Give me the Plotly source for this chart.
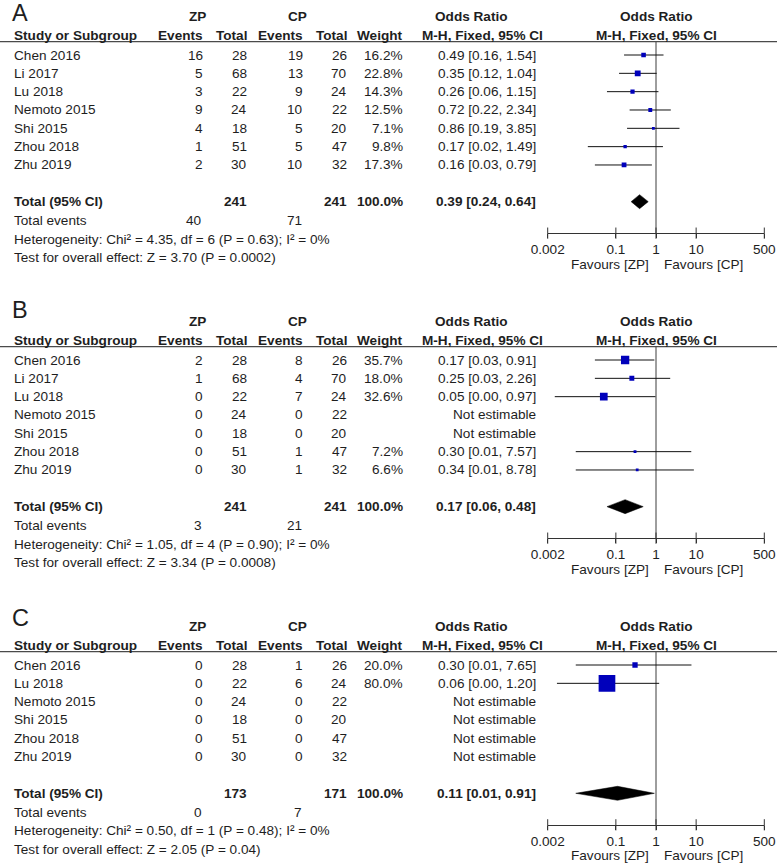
import math
import plotly.graph_objects as go

W, H = 778, 866
FONT = "Liberation Sans, Arial, Helvetica, sans-serif"
TXT = "#1e1e1e"
AX = "#333333"
BLUE = "#0000BB"

# ---------------- data ----------------
studies_A = ["Chen 2016", "Li 2017", "Lu 2018", "Nemoto 2015", "Shi 2015", "Zhou 2018", "Zhu 2019"]
zp_events_A = [16, 5, 3, 9, 4, 1, 2]
zp_total_A = [28, 68, 22, 24, 18, 51, 30]
cp_events_A = [19, 13, 9, 10, 5, 5, 10]
cp_total_A = [26, 70, 24, 22, 20, 47, 32]
weight_A = [16.2, 22.8, 14.3, 12.5, 7.1, 9.8, 17.3]
or_A = [0.49, 0.35, 0.26, 0.72, 0.86, 0.17, 0.16]
lo_A = [0.16, 0.12, 0.06, 0.22, 0.19, 0.02, 0.03]
hi_A = [1.54, 1.04, 1.15, 2.34, 3.85, 1.49, 0.79]
pooled_A = [0.39, 0.24, 0.64]
totals_A = [241, 241]
events_A = [40, 71]
het_A = "Heterogeneity: Chi² = 4.35, df = 6 (P = 0.63); I² = 0%"
test_A = "Test for overall effect: Z = 3.70 (P = 0.0002)"

studies_B = ["Chen 2016", "Li 2017", "Lu 2018", "Nemoto 2015", "Shi 2015", "Zhou 2018", "Zhu 2019"]
zp_events_B = [2, 1, 0, 0, 0, 0, 0]
zp_total_B = [28, 68, 22, 24, 18, 51, 30]
cp_events_B = [8, 4, 7, 0, 0, 1, 1]
cp_total_B = [26, 70, 24, 22, 20, 47, 32]
weight_B = [35.7, 18.0, 32.6, None, None, 7.2, 6.6]
or_B = [0.17, 0.25, 0.05, None, None, 0.30, 0.34]
lo_B = [0.03, 0.03, 0.003, None, None, 0.01, 0.01]
hi_B = [0.91, 2.26, 0.97, None, None, 7.57, 8.78]
pooled_B = [0.17, 0.06, 0.48]
totals_B = [241, 241]
events_B = [3, 21]
het_B = "Heterogeneity: Chi² = 1.05, df = 4 (P = 0.90); I² = 0%"
test_B = "Test for overall effect: Z = 3.34 (P = 0.0008)"

studies_C = ["Chen 2016", "Lu 2018", "Nemoto 2015", "Shi 2015", "Zhou 2018", "Zhu 2019"]
zp_events_C = [0, 0, 0, 0, 0, 0]
zp_total_C = [28, 22, 24, 18, 51, 30]
cp_events_C = [1, 6, 0, 0, 0, 0]
cp_total_C = [26, 24, 22, 20, 47, 32]
weight_C = [20.0, 80.0, None, None, None, None]
or_C = [0.30, 0.06, None, None, None, None]
lo_C = [0.01, 0.0034, None, None, None, None]
hi_C = [7.65, 1.20, None, None, None, None]
pooled_C = [0.11, 0.01, 0.91]
totals_C = [173, 171]
events_C = [0, 7]
het_C = "Heterogeneity: Chi² = 0.50, df = 1 (P = 0.48); I² = 0%"
test_C = "Test for overall effect: Z = 2.05 (P = 0.04)"

panel_letters = ["A", "B", "C"]
tick_vals = [0.002, 0.1, 1, 10, 500]
tick_text = ["0.002", "0.1", "1", "10", "500"]
favours = ["Favours [ZP]", "Favours [CP]"]

panels = [
    dict(studies=studies_A, zpe=zp_events_A, zpt=zp_total_A, cpe=cp_events_A, cpt=cp_total_A,
         w=weight_A, orr=or_A, lo=lo_A, hi=hi_A, pooled=pooled_A, totals=totals_A,
         events=events_A, het=het_A, test=test_A),
    dict(studies=studies_B, zpe=zp_events_B, zpt=zp_total_B, cpe=cp_events_B, cpt=cp_total_B,
         w=weight_B, orr=or_B, lo=lo_B, hi=hi_B, pooled=pooled_B, totals=totals_B,
         events=events_B, het=het_B, test=test_B),
    dict(studies=studies_C, zpe=zp_events_C, zpt=zp_total_C, cpe=cp_events_C, cpt=cp_total_C,
         w=weight_C, orr=or_C, lo=lo_C, hi=hi_C, pooled=pooled_C, totals=totals_C,
         events=events_C, het=het_C, test=test_C),
]

# ---------------- layout constants (pixels) ----------------
PANEL_OFF = [0, 305, 610]
LETTER_Y = [12.5, 310, 618]
FIRST_ROW = 55
ROW_H = 18.33
FS = 13.6
X_STUDY = 12.7
X_EV_ZP, X_TOT_ZP, X_EV_CP, X_TOT_CP, X_W, X_OR = 203.5, 247.5, 303.5, 347.5, 404, 537
PLOT_L, PLOT_R = 547.7, 764.3

fig = go.Figure()
annotations = []
shapes = []


def txt(xpx, y, s, anchor="left", bold=False, size=FS):
    annotations.append(dict(
        xref="paper", yref="y", x=xpx / W, y=y, text=("<b>%s</b>" % s) if bold else s,
        showarrow=False, xanchor=anchor, yanchor="middle", borderpad=0,
        font=dict(family=FONT, size=size, color=TXT)))


for k, p in enumerate(panels):
    off = PANEL_OFF[k]
    xa = "x" if k == 0 else "x%d" % (k + 1)
    y0 = off + FIRST_ROW
    n = len(p["studies"])
    rows = [y0 + i * ROW_H for i in range(n)]
    y_total = rows[-1] + 2 * ROW_H
    y_events = y_total + 18.7
    y_het = y_total + 37.4
    y_test = y_total + 56
    y_axis = y_total + 31.5
    y_fav = y_axis + 31
    y_h1 = y0 - 39
    y_h2 = y0 - 20
    y_line = y0 - 13.3

    # panel letter
    txt(11, LETTER_Y[k], panel_letters[k], size=23.5)

    # headers
    txt(197, y_h1, "ZP", "center", True)
    txt(297, y_h1, "CP", "center", True)
    txt(471.5, y_h1, "Odds Ratio", "center", True)
    txt(656.5, y_h1, "Odds Ratio", "center", True)
    txt(X_STUDY, y_h2, "Study or Subgroup", "left", True)
    txt(X_EV_ZP + 0.5, y_h2, "Events", "right", True)
    txt(X_TOT_ZP, y_h2, "Total", "right", True)
    txt(X_EV_CP, y_h2, "Events", "right", True)
    txt(X_TOT_CP, y_h2, "Total", "right", True)
    txt(X_W, y_h2, "Weight", "right", True)
    txt(482.5, y_h2, "M-H, Fixed, 95% CI", "center", True)
    txt(656, y_h2, "M-H, Fixed, 95% CI", "center", True)
    shapes.append(dict(type="line", xref="paper", yref="y", x0=0, x1=777 / W,
                       y0=y_line, y1=y_line, line=dict(color="#4a4a4a", width=1.3)))

    # study rows
    for i, s in enumerate(p["studies"]):
        y = rows[i]
        txt(X_STUDY, y, s)
        txt(X_EV_ZP, y, str(p["zpe"][i]), "right")
        txt(X_TOT_ZP, y, str(p["zpt"][i]), "right")
        txt(X_EV_CP, y, str(p["cpe"][i]), "right")
        txt(X_TOT_CP, y, str(p["cpt"][i]), "right")
        if p["orr"][i] is None:
            txt(X_OR, y, "Not estimable", "right")
        else:
            txt(X_W, y, "%.1f%%" % p["w"][i], "right")
            txt(X_OR, y, "%.2f [%.2f, %.2f]" % (p["orr"][i], p["lo"][i], p["hi"][i]), "right")

    # totals
    txt(X_STUDY, y_total, "Total (95% CI)", "left", True)
    txt(X_TOT_ZP, y_total, str(p["totals"][0]), "right", True)
    txt(X_TOT_CP, y_total, str(p["totals"][1]), "right", True)
    txt(X_W, y_total, "100.0%", "right", True)
    txt(X_OR, y_total, "%.2f [%.2f, %.2f]" % tuple(p["pooled"]), "right", True)
    txt(X_STUDY, y_events, "Total events")
    txt(X_EV_ZP - 1, y_events, str(p["events"][0]), "right")
    txt(X_EV_CP - 1, y_events, str(p["events"][1]), "right")
    txt(X_STUDY, y_het, p["het"])
    txt(X_STUDY, y_test, p["test"])

    # favours labels
    annotations.append(dict(xref=xa, yref="y", x=0, y=y_fav, text=favours[0], showarrow=False,
                            xanchor="right", yanchor="middle", xshift=-5,
                            font=dict(family=FONT, size=FS, color=TXT)))
    annotations.append(dict(xref=xa, yref="y", x=0, y=y_fav, text=favours[1], showarrow=False,
                            xanchor="left", yanchor="middle", xshift=6,
                            font=dict(family=FONT, size=FS, color=TXT)))

    # null line
    fig.add_trace(go.Scatter(x=[1, 1], y=[y_line, y_axis], mode="lines", xaxis=xa, yaxis="y",
                             line=dict(color="#3c3c3c", width=1), hoverinfo="skip", showlegend=False))

    # CI lines
    cx, cy = [], []
    for i in range(n):
        if p["orr"][i] is not None:
            cx += [p["lo"][i], p["hi"][i], None]
            cy += [rows[i], rows[i], None]
    fig.add_trace(go.Scatter(x=cx, y=cy, mode="lines", xaxis=xa, yaxis="y",
                             line=dict(color="#111111", width=1), hoverinfo="skip", showlegend=False))

    # squares
    mx, my, ms = [], [], []
    for i in range(n):
        if p["orr"][i] is not None:
            mx.append(p["orr"][i])
            my.append(rows[i])
            ms.append(1.5 + 0.19 * p["w"][i])
    fig.add_trace(go.Scatter(x=mx, y=my, mode="markers", xaxis=xa, yaxis="y",
                             marker=dict(symbol="square", size=ms, color=BLUE, opacity=1, line=dict(width=0)),
                             hoverinfo="skip", showlegend=False))

    # diamond
    est, plo, phi = p["pooled"]
    fig.add_trace(go.Scatter(x=[plo, est, phi, est, plo], y=[y_total, y_total - 7, y_total, y_total + 7, y_total],
                             mode="lines", fill="toself", fillcolor="black", xaxis=xa, yaxis="y",
                             line=dict(color="black", width=0.5), hoverinfo="skip", showlegend=False))

    # full-crossing ticks
    fig.add_trace(go.Scatter(x=tick_vals, y=[y_axis] * len(tick_vals), mode="markers", xaxis=xa, yaxis="y",
                             marker=dict(symbol="line-ns", size=8, color=AX, line=dict(width=1, color=AX)),
                             hoverinfo="skip", showlegend=False, cliponaxis=False))

    ax = dict(type="log", range=[math.log10(0.002), math.log10(500)], anchor="free",
              position=1 - y_axis / H, showline=True, linecolor=AX, linewidth=1,
              ticks="outside", ticklen=4, tickcolor=AX, tickwidth=1,
              tickmode="array", tickvals=tick_vals, ticktext=tick_text,
              tickfont=dict(family=FONT, size=FS, color=TXT),
              showgrid=False, zeroline=False, fixedrange=True, automargin=False)
    if k == 0:
        ax["domain"] = [PLOT_L / W, PLOT_R / W]
        fig.update_layout(xaxis=ax)
    else:
        ax["overlaying"] = "x"
        fig.update_layout(**{"xaxis%d" % (k + 1): ax})

fig.update_layout(
    width=W, height=H, margin=dict(l=0, r=0, t=0, b=0, pad=0, autoexpand=False),
    paper_bgcolor="white", plot_bgcolor="rgba(0,0,0,0)",
    yaxis=dict(range=[H, 0], domain=[0, 1], visible=False, fixedrange=True),
    annotations=annotations, shapes=shapes, showlegend=False,
)

fig.write_html(
    "out.html",
    config={"displayModeBar": False, "staticPlot": True},
    post_script="document.body.style.margin='0';document.body.style.overflow='hidden';",
)
